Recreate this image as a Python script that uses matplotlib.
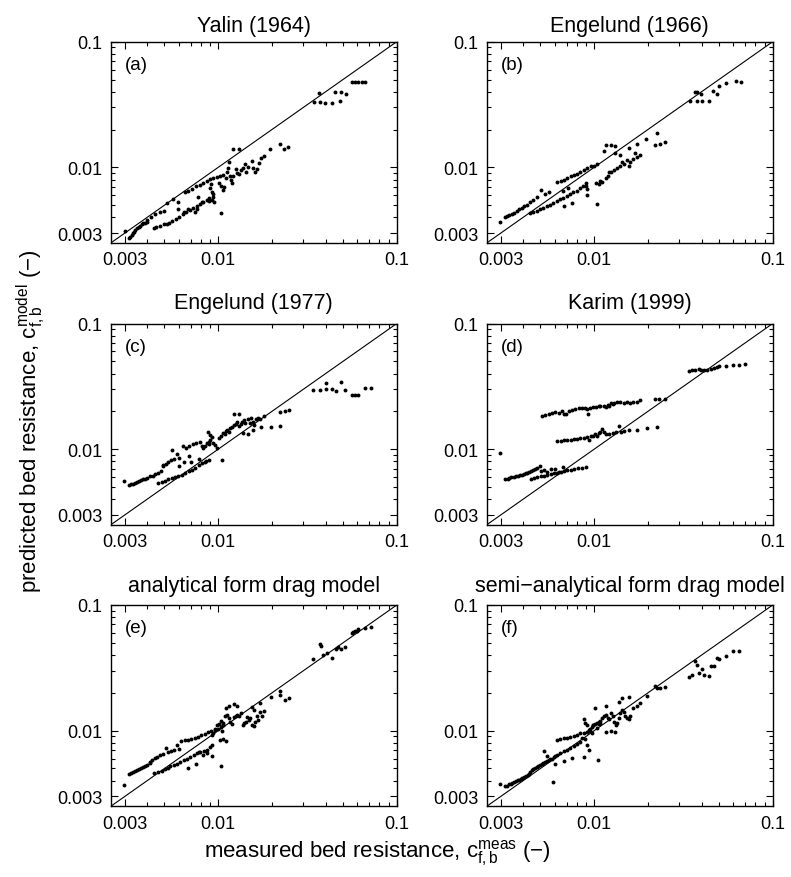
import numpy as np
import matplotlib.pyplot as plt
from matplotlib.ticker import FixedLocator, LogLocator, NullFormatter

plt.rcParams['font.family'] = ['Liberation Sans', 'DejaVu Sans']
plt.rcParams['mathtext.fontset'] = 'custom'
plt.rcParams['mathtext.rm'] = 'Liberation Sans'
plt.rcParams['mathtext.it'] = 'Liberation Sans:italic'

# axis settings
lims = [0.0025, 0.1]
ticks = [0.003, 0.01, 0.1]
tick_labels = ['0.003', '0.01', '0.1']

titles = ['Yalin (1964)', 'Engelund (1966)', 'Engelund (1977)', 'Karim (1999)',
          'analytical form drag model', 'semi\u2212analytical form drag model']
tags = ['(a)', '(b)', '(c)', '(d)', '(e)', '(f)']

# (a) Yalin (1964)
meas_a = [0.003, 0.00315, 0.0032, 0.00327, 0.00332, 0.00336, 0.00343, 0.0035, 0.00358, 0.00365, 0.00372, 0.0038, 0.0039, 0.004,
          0.00401, 0.00418, 0.00442, 0.00472, 0.00495, 0.00519, 0.00561, 0.00596, 0.00652, 0.00681, 0.00711, 0.00751, 0.00791,
          0.00826, 0.00862, 0.009, 0.0094, 0.00981, 0.01024, 0.01069,
          0.00437, 0.0045, 0.00472, 0.00495, 0.00515, 0.00531, 0.00551, 0.00577, 0.00605, 0.00632, 0.00662, 0.00695, 0.00726,
          0.00758, 0.00791, 0.00826, 0.00862, 0.00887,
          0.00596, 0.00645, 0.00681, 0.00742, 0.00758, 0.00774, 0.00808,
          0.009, 0.0092, 0.0093, 0.0094, 0.0092, 0.0095, 0.0089, 0.0091, 0.0101, 0.0104, 0.0106, 0.0108, 0.0111, 0.01116,
          0.0114, 0.0115, 0.01165, 0.0118, 0.012, 0.01216, 0.0125, 0.0128, 0.0131, 0.0134, 0.0137, 0.0141, 0.0143, 0.0147,
          0.0154, 0.0157, 0.0161, 0.0165, 0.0169, 0.0173, 0.0181, 0.0104, 0.01216, 0.013, 0.0196, 0.0222, 0.0233, 0.0247,
          0.0369, 0.0346, 0.0373, 0.0397, 0.0432, 0.0453, 0.0481, 0.0487, 0.0517, 0.0558, 0.0583, 0.0608, 0.064, 0.066]
pred_a = [0.00313, 0.00276, 0.00281, 0.0029, 0.003, 0.00308, 0.00317, 0.00327, 0.00334, 0.00344, 0.00351, 0.00358, 0.00363, 0.0037,
          0.00383, 0.004, 0.00422, 0.00439, 0.0045, 0.00519, 0.0056, 0.00532, 0.00633, 0.00644, 0.00673, 0.00705, 0.00722,
          0.00748, 0.00772, 0.00806, 0.00826, 0.00842, 0.00857, 0.00868,
          0.00327, 0.00333, 0.0034, 0.00352, 0.00356, 0.00363, 0.00374, 0.00388, 0.004, 0.00422, 0.00439, 0.00458, 0.00475,
          0.00493, 0.00508, 0.00526, 0.0055, 0.00574,
          0.00466, 0.00444, 0.00466, 0.00444, 0.00466, 0.00578, 0.00532,
          0.0068, 0.0064, 0.0061, 0.00583, 0.00553, 0.00532, 0.00535, 0.00736, 0.00746, 0.00705, 0.00666, 0.00693, 0.00829, 0.0091,
          0.0098, 0.011, 0.00857, 0.00791, 0.00748, 0.00847, 0.0097, 0.009, 0.0088, 0.0095, 0.0098, 0.0106, 0.0092, 0.01,
          0.0113, 0.0098, 0.0091, 0.0097, 0.0109, 0.0119, 0.0122, 0.0043, 0.0139, 0.0139, 0.0139, 0.0152, 0.0139, 0.0144,
          0.0389, 0.0329, 0.0329, 0.0325, 0.0325, 0.0395, 0.0337, 0.0395, 0.0381, 0.0474, 0.0474, 0.0474, 0.0474, 0.0474]

# (b) Engelund (1966)
meas_b = [0.00297, 0.00318, 0.00326, 0.00335, 0.00345, 0.00356, 0.00368, 0.00381, 0.00392, 0.00404, 0.00419, 0.00437, 0.00456,
          0.00476, 0.00502, 0.00532, 0.00556,
          0.00622, 0.00649, 0.00677, 0.00707, 0.00737, 0.00769, 0.00803, 0.00838, 0.00877, 0.00915, 0.00956, 0.00998, 0.0104,
          0.00437, 0.00456, 0.00476, 0.00497, 0.00519, 0.00542, 0.00566, 0.0059, 0.00616, 0.00644, 0.00671, 0.007, 0.0073,
          0.00763, 0.00797, 0.00831, 0.00868, 0.00896,
          0.00677, 0.0075, 0.00671, 0.00716, 0.00907, 0.00915, 0.009, 0.0104,
          0.0103, 0.0106, 0.0108, 0.0111, 0.0116, 0.0119, 0.0121, 0.0124, 0.0129, 0.0134, 0.0139, 0.0143, 0.0147, 0.0152,
          0.0156, 0.0159, 0.0166, 0.0173, 0.018, 0.0169,
          0.0114, 0.0116, 0.0124, 0.0131, 0.013, 0.014, 0.0156, 0.0174, 0.0196, 0.0224, 0.0219, 0.0235, 0.025,
          0.0344, 0.0367, 0.0377, 0.0395, 0.0375, 0.0402, 0.0438, 0.0461, 0.0489, 0.05, 0.055, 0.062, 0.066]
pred_b = [0.00365, 0.004, 0.00407, 0.00414, 0.00424, 0.00436, 0.00448, 0.00463, 0.00478, 0.00493, 0.00504, 0.00526, 0.0055,
          0.00577, 0.00666, 0.00613, 0.0064,
          0.0076, 0.00776, 0.00791, 0.00822, 0.00847, 0.00868, 0.0089, 0.0091, 0.0095, 0.0099, 0.0102, 0.0103, 0.0106,
          0.0043, 0.0044, 0.00448, 0.00463, 0.00475, 0.0049, 0.00504, 0.00523, 0.00539, 0.00556, 0.00574, 0.00596, 0.0061,
          0.00633, 0.00652, 0.0068, 0.00714, 0.00748,
          0.00495, 0.00519, 0.0065, 0.0068, 0.00602, 0.00673, 0.00714, 0.0051,
          0.00748, 0.00731, 0.00776, 0.0076, 0.00826, 0.00857, 0.0091, 0.0092, 0.0095, 0.0098, 0.0103, 0.011, 0.0106, 0.0114,
          0.0103, 0.011, 0.0117, 0.0121, 0.0125, 0.013,
          0.0136, 0.015, 0.015, 0.0147, 0.013, 0.0125, 0.0143, 0.0154, 0.0169, 0.0188, 0.015, 0.0152, 0.016,
          0.0337, 0.04, 0.0395, 0.0381, 0.0337, 0.0337, 0.0337, 0.0405, 0.0381, 0.0441, 0.047, 0.049, 0.048]

# (c) Engelund (1977)
meas_c = [0.00298, 0.00316, 0.00324, 0.00333, 0.00341, 0.0035, 0.00359, 0.00368, 0.00377, 0.00388, 0.00401, 0.00414,
          0.00429, 0.00445, 0.00461, 0.00476, 0.00492, 0.00493, 0.0051, 0.00526, 0.00544, 0.00565, 0.00586, 0.00603, 0.00631,
          0.0066, 0.0069, 0.00721, 0.00754, 0.00788, 0.00809,
          0.00459, 0.00482, 0.00503, 0.00526, 0.00549, 0.00573, 0.00598, 0.00627, 0.00654, 0.00683, 0.00713, 0.00745,
          0.00777, 0.00812, 0.00847, 0.00851,
          0.00549, 0.00601, 0.00643, 0.00701, 0.00784, 0.0069, 0.00892, 0.0105,
          0.00826, 0.00847, 0.00866, 0.00885, 0.00904, 0.00923, 0.00892, 0.0088, 0.009, 0.0093, 0.0096, 0.00981, 0.0101,
          0.0104, 0.0106, 0.0109, 0.0111, 0.0112, 0.0115, 0.0117, 0.012, 0.0122, 0.0125, 0.0128, 0.0131, 0.0134, 0.0136,
          0.0139, 0.0142, 0.0146, 0.015, 0.0152, 0.0156, 0.0159, 0.0162, 0.0166, 0.0172, 0.018, 0.0122, 0.013, 0.0138,
          0.0146, 0.0156, 0.0173, 0.0197, 0.0222, 0.0222, 0.0236, 0.0248,
          0.0341, 0.0372, 0.0399, 0.0399, 0.0434, 0.0455, 0.0487, 0.0515, 0.0558, 0.0581, 0.0604, 0.066, 0.072]
pred_c = [0.00556, 0.00519, 0.00526, 0.00532, 0.00539, 0.00546, 0.00556, 0.00566, 0.00574, 0.0058, 0.0059, 0.00607,
          0.00616, 0.00636, 0.00649, 0.00669, 0.00746, 0.00731, 0.00768, 0.00784, 0.00816, 0.00837, 0.0092, 0.00847, 0.0106,
          0.0103, 0.0106, 0.0109, 0.0111, 0.0114, 0.0106,
          0.00542, 0.00553, 0.00563, 0.00577, 0.00589, 0.00598, 0.0061, 0.00626, 0.00644, 0.00666, 0.00689, 0.00708,
          0.00748, 0.00772, 0.00784, 0.00806,
          0.0098, 0.00731, 0.00791, 0.00784, 0.00837, 0.0088, 0.00816, 0.00826,
          0.0102, 0.0106, 0.0111, 0.0115, 0.0119, 0.0124, 0.0109, 0.0138, 0.013, 0.0112, 0.0107, 0.0102, 0.0123,
          0.0127, 0.0135, 0.0131, 0.0139, 0.0143, 0.0137, 0.0148, 0.0151, 0.0156, 0.0159, 0.0164, 0.0152, 0.016, 0.0166,
          0.017, 0.0162, 0.0173, 0.0162, 0.0176, 0.0166, 0.0157, 0.0173, 0.0178, 0.0173, 0.0184, 0.0191, 0.0191, 0.0135,
          0.0131, 0.0143, 0.0149, 0.015, 0.0152, 0.0198, 0.0201, 0.0204,
          0.0297, 0.0295, 0.0299, 0.0337, 0.0299, 0.0291, 0.0341, 0.0295, 0.0272, 0.0272, 0.0272, 0.0305, 0.0305]

# (d) Karim (1999)
meas_d = [0.00297, 0.00318, 0.00328, 0.00335, 0.00344, 0.00354, 0.00364, 0.00374, 0.00385, 0.00396, 0.00405, 0.00416,
          0.00422, 0.00433, 0.00444, 0.00456, 0.00468, 0.0048, 0.00497, 0.00505, 0.00524, 0.00542, 0.0057, 0.00606,
          0.00633, 0.00671,
          0.0044, 0.0046, 0.0048, 0.00502, 0.00524, 0.00547, 0.0057, 0.00595, 0.00622, 0.00649, 0.00677, 0.00707, 0.00737,
          0.00769, 0.0081, 0.00855, 0.00896,
          0.00622, 0.00649, 0.00677, 0.00707, 0.00737, 0.00769, 0.00803, 0.00838, 0.00877, 0.00915, 0.0093, 0.00956,
          0.00985, 0.01015, 0.0104, 0.0106, 0.0108, 0.0111, 0.0114, 0.0116, 0.0121, 0.0127, 0.0132, 0.0138, 0.0141, 0.0147,
          0.0156, 0.0174, 0.0197, 0.0224,
          0.0051, 0.00532, 0.00556, 0.0058, 0.00606, 0.00633, 0.0066, 0.00677, 0.00695, 0.0072, 0.0075, 0.00784, 0.00819,
          0.00855, 0.00893, 0.0091, 0.0092, 0.0095, 0.0099, 0.0103, 0.0106, 0.0108, 0.0114, 0.0116, 0.0119, 0.0121, 0.0124,
          0.0127, 0.0129, 0.0134, 0.014, 0.0146, 0.0152, 0.0158, 0.0166, 0.0173, 0.018, 0.0219, 0.0231, 0.025,
          0.0338, 0.0353, 0.0369, 0.0386, 0.0395, 0.0413, 0.043, 0.0449, 0.0469, 0.0489, 0.05, 0.055, 0.06, 0.065, 0.07]
pred_d = [0.0094, 0.0058, 0.00583, 0.00589, 0.00596, 0.00602, 0.00607, 0.00613, 0.00621, 0.00628, 0.00636, 0.00644,
          0.00652, 0.00659, 0.00669, 0.0068, 0.00697, 0.00708, 0.00731, 0.00669, 0.0068, 0.00655, 0.00697, 0.00697,
          0.00655, 0.00722,
          0.00583, 0.0059, 0.00598, 0.00607, 0.00616, 0.00626, 0.00633, 0.00644, 0.00652, 0.00659, 0.00669, 0.0068, 0.00689,
          0.00697, 0.00705, 0.00708, 0.00718,
          0.0117, 0.0117, 0.0118, 0.0119, 0.0119, 0.012, 0.0121, 0.0122, 0.0122, 0.0125, 0.0118, 0.0127,
          0.0128, 0.0131, 0.0127, 0.0135, 0.0138, 0.0145, 0.0138, 0.0133, 0.0131, 0.0135, 0.0137, 0.0152, 0.0138, 0.014,
          0.0142, 0.0143, 0.0147, 0.0149,
          0.0183, 0.0188, 0.0191, 0.0194, 0.0197, 0.0194, 0.0203, 0.0189, 0.019, 0.0201, 0.0205, 0.0208, 0.0211,
          0.0213, 0.0212, 0.0207, 0.0192, 0.0213, 0.0215, 0.0217, 0.022, 0.022, 0.0222, 0.0217, 0.0226, 0.0222, 0.0233,
          0.0229, 0.0233, 0.0236, 0.0236, 0.0233, 0.0236, 0.0233, 0.0239, 0.0239, 0.0246, 0.0253, 0.0253, 0.0253,
          0.042, 0.043, 0.0428, 0.0436, 0.0423, 0.0425, 0.043, 0.0436, 0.0441, 0.0449, 0.0458, 0.046, 0.047, 0.047, 0.048]

# (e) analytical form drag model
meas_e = [0.00298, 0.00316, 0.00324, 0.00333, 0.00341, 0.0035, 0.00359, 0.00368, 0.00377, 0.00388, 0.00401, 0.00414,
          0.00415, 0.00426, 0.00441, 0.00455, 0.00472, 0.0049, 0.00507, 0.0052, 0.00542, 0.00565, 0.00586, 0.00603,
          0.00622, 0.00649, 0.00677, 0.00707, 0.00737, 0.00769, 0.00803, 0.00838, 0.00877, 0.00915, 0.00956, 0.00998,
          0.0104, 0.0107,
          0.00437, 0.00461, 0.00482, 0.00505, 0.00522, 0.0054, 0.00563, 0.00588, 0.00614, 0.0064, 0.00669, 0.00698, 0.0073,
          0.00761, 0.00794, 0.00829, 0.00866, 0.009, 0.0092,
          0.0068, 0.0075, 0.00784, 0.00826, 0.00866, 0.00923, 0.0104,
          0.00923, 0.0094, 0.0096, 0.0098, 0.0101, 0.0103, 0.0106, 0.0107, 0.0105, 0.0107, 0.011, 0.0102, 0.0109, 0.0112,
          0.0115, 0.0117, 0.012, 0.0122, 0.0125, 0.0128, 0.0131, 0.0134, 0.0137, 0.014, 0.0143, 0.0145, 0.0148, 0.0151,
          0.0154, 0.0158, 0.0161, 0.0165, 0.0168, 0.0172, 0.0175, 0.018,
          0.011, 0.0115, 0.0122, 0.0128, 0.0154, 0.0158, 0.0172, 0.0197, 0.0222, 0.0222, 0.0238, 0.0248,
          0.0341, 0.0372, 0.0375, 0.0388, 0.0405, 0.0434, 0.0455, 0.047, 0.049, 0.0512, 0.0559, 0.0571, 0.0583, 0.0596,
          0.061, 0.066, 0.072]
pred_e = [0.00367, 0.00449, 0.00458, 0.00466, 0.00475, 0.00484, 0.00493, 0.00501, 0.0051, 0.00523, 0.00535, 0.00553,
          0.00566, 0.0058, 0.00607, 0.00621, 0.00636, 0.00649, 0.00731, 0.00676, 0.00689, 0.00708, 0.00764, 0.00718,
          0.00826, 0.00837, 0.00847, 0.00862, 0.0088, 0.0089, 0.0092, 0.0094, 0.0097, 0.0099, 0.0102, 0.0104,
          0.0107, 0.011,
          0.00458, 0.00469, 0.0048, 0.00493, 0.00508, 0.00519, 0.00532, 0.00546, 0.00563, 0.0058, 0.00598, 0.00616, 0.0064,
          0.00666, 0.00676, 0.00689, 0.00708, 0.0074, 0.00772,
          0.00504, 0.00539, 0.00676, 0.00644, 0.00669, 0.00628, 0.00523,
          0.0093, 0.0096, 0.0104, 0.011, 0.0112, 0.0119, 0.0116, 0.011, 0.0099, 0.00851, 0.00822, 0.0084, 0.0131, 0.0134,
          0.0126, 0.0118, 0.0114, 0.0128, 0.0131, 0.0134, 0.0132, 0.0138, 0.0111, 0.0115, 0.0118, 0.0129, 0.0122, 0.0126,
          0.0111, 0.0108, 0.0118, 0.013, 0.0122, 0.0142, 0.013, 0.0143,
          0.0152, 0.0157, 0.0163, 0.0157, 0.0155, 0.0146, 0.0167, 0.0187, 0.0193, 0.0207, 0.0175, 0.0182,
          0.0374, 0.0489, 0.0471, 0.0402, 0.0413, 0.0379, 0.0444, 0.0466, 0.0444, 0.0466, 0.0602, 0.061, 0.0617, 0.0625,
          0.064, 0.066, 0.067]

# (f) semi-analytical form drag model
meas_f = [0.00297, 0.00318, 0.00326, 0.00333, 0.0034, 0.00348, 0.00356, 0.00364, 0.00372, 0.0038, 0.00388, 0.00396,
          0.00405, 0.00416, 0.00424, 0.0043, 0.00438, 0.00446, 0.00455, 0.00466, 0.00477, 0.00487, 0.005, 0.0051, 0.0052,
          0.00532, 0.00545, 0.00556, 0.00568, 0.0058, 0.00592, 0.00606, 0.00622, 0.00645, 0.00674, 0.00704, 0.00734,
          0.00766, 0.008, 0.00835,
          0.00619, 0.00645, 0.00674, 0.00704, 0.00734, 0.00766, 0.008, 0.00835, 0.00873, 0.0091, 0.0093, 0.0095, 0.0097,
          0.0099, 0.01015, 0.0104, 0.0106, 0.0108,
          0.00524, 0.00545, 0.00606, 0.00674, 0.0075, 0.00877, 0.0105, 0.00586, 0.0094, 0.0091, 0.00893, 0.00855,
          0.00873, 0.00893, 0.0091, 0.0093, 0.0095, 0.0097, 0.0099, 0.0104, 0.0106, 0.0108, 0.0111, 0.0114, 0.0116, 0.0119,
          0.0121, 0.0124, 0.0127, 0.0129, 0.0132, 0.0134, 0.0137, 0.014, 0.0143, 0.0146, 0.0149, 0.0152, 0.0156, 0.0158,
          0.0166, 0.0173, 0.018, 0.0197, 0.0219, 0.0225, 0.0234, 0.025,
          0.0101, 0.0116, 0.0137, 0.0143, 0.0156, 0.0116, 0.0124, 0.013,
          0.0338, 0.0353, 0.0369, 0.0375, 0.0386, 0.0402, 0.0413, 0.0438, 0.0449, 0.0469, 0.0489, 0.05, 0.055, 0.06, 0.065]
pred_f = [0.00375, 0.0036, 0.00366, 0.00373, 0.00377, 0.00385, 0.00391, 0.00396, 0.00403, 0.00408, 0.00415, 0.0042,
          0.00424, 0.00432, 0.0044, 0.00456, 0.00468, 0.00482, 0.00495, 0.00502, 0.00512, 0.00526, 0.00532, 0.00542,
          0.00558, 0.00565, 0.00576, 0.00585, 0.00592, 0.006, 0.00612, 0.00627, 0.00644, 0.00666, 0.00685, 0.00705, 0.00731,
          0.00752, 0.0078, 0.00806,
          0.0084, 0.00851, 0.00868, 0.0088, 0.0089, 0.0091, 0.0093, 0.0095, 0.0096, 0.0098, 0.01, 0.0104, 0.0107,
          0.0111, 0.0114, 0.0116, 0.0117, 0.0119,
          0.00685, 0.00628, 0.00539, 0.00574, 0.0061, 0.00616, 0.00583, 0.0039, 0.00708, 0.00776, 0.00851, 0.0088,
          0.0123, 0.0116, 0.011, 0.0102, 0.0099, 0.0096, 0.011, 0.0105, 0.0112, 0.0116, 0.0126, 0.013, 0.0134, 0.0126,
          0.0123, 0.0139, 0.0131, 0.0118, 0.011, 0.0116, 0.0126, 0.0139, 0.0147, 0.0142, 0.0131, 0.0126, 0.0124, 0.0131,
          0.0151, 0.0157, 0.0166, 0.0188, 0.0225, 0.0218, 0.0218, 0.0222,
          0.0152, 0.0156, 0.017, 0.0182, 0.0185, 0.0098, 0.01, 0.0097,
          0.0268, 0.0279, 0.0356, 0.0335, 0.029, 0.0308, 0.0275, 0.0272, 0.0327, 0.0327, 0.0379, 0.037, 0.039, 0.043, 0.043]

meas_all = [meas_a, meas_b, meas_c, meas_d, meas_e, meas_f]
pred_all = [pred_a, pred_b, pred_c, pred_d, pred_e, pred_f]

fig = plt.figure(figsize=(7.91, 8.78), dpi=100)
col_left = [0.140, 0.6153]
row_bottom = [0.7221, 0.4011, 0.0805]
title_pad = [8, 11, 10]
w, h = 0.3616, 0.2293

for i in range(6):
    r, c = i // 2, i % 2
    ax = fig.add_axes([col_left[c], row_bottom[r], w, h])
    ax.plot(lims, lims, color='k', lw=0.8)
    ax.plot(meas_all[i], pred_all[i], 'o', ms=2.8, mew=0, color='k')
    ax.set_xscale('log')
    ax.set_yscale('log')
    ax.set_xlim(lims)
    ax.set_ylim(lims)
    for axis in [ax.xaxis, ax.yaxis]:
        axis.set_major_locator(FixedLocator(ticks))
        axis.set_minor_locator(LogLocator(base=10, subs=np.arange(2, 10)))
        axis.set_minor_formatter(NullFormatter())
    ax.set_xticklabels(tick_labels)
    ax.set_yticklabels(tick_labels)
    ax.tick_params(which='both', direction='in', top=True, right=True, labelsize=13, pad=6, width=0.8)
    ax.tick_params(which='major', length=5)
    ax.tick_params(which='minor', length=3)
    for s in ax.spines.values():
        s.set_linewidth(1.0)
    ax.set_title(titles[i], fontsize=15.5, pad=title_pad[r])
    ax.text(0.05, 0.93, tags[i], transform=ax.transAxes, fontsize=13.5, va='top', ha='left')

fig.text(0.477, 0.028, 'measured bed resistance, $\\mathrm{c}_{\\mathrm{f,b}}^{\\mathrm{meas}}$ (\u2212)',
         ha='center', va='center', fontsize=16)
fig.text(0.04, 0.52, 'predicted bed resistance, $\\mathrm{c}_{\\mathrm{f,b}}^{\\mathrm{model}}$ (\u2212)',
         ha='center', va='center', rotation=90, fontsize=16)

fig.savefig('out.png', dpi=100)
